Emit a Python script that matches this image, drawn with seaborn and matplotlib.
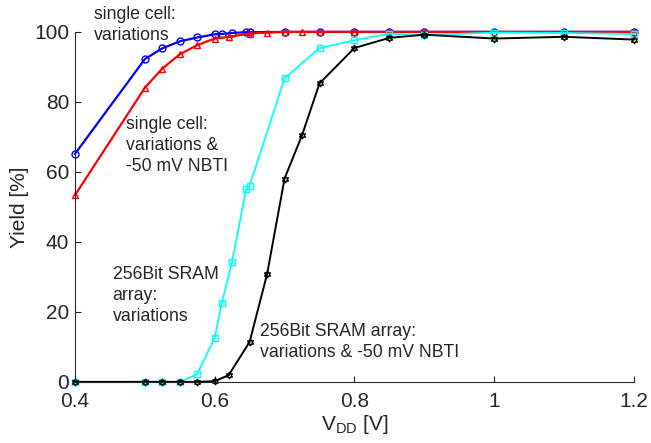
import matplotlib
matplotlib.use("Agg")
import matplotlib.pyplot as plt
import seaborn as sns

# supply voltage sweep points (two grids were simulated)
vdd_a = [0.4, 0.5, 0.525, 0.55, 0.575, 0.6, 0.61, 0.625, 0.645, 0.65,
         0.7, 0.75, 0.8, 0.85, 0.9, 1.0, 1.1, 1.2]
vdd_b = [0.4, 0.5, 0.525, 0.55, 0.575, 0.6, 0.62, 0.65, 0.675, 0.7,
         0.725, 0.75, 0.8, 0.85, 0.9, 1.0, 1.1, 1.2]

# yield in percent
cell_var = [65.1, 92.2, 95.3, 97.3, 98.4, 99.3, 99.4, 99.7, 99.9, 99.9,
            100, 100, 100, 100, 100, 100, 100, 100]
cell_var_nbti = [53.3, 84.0, 89.5, 93.6, 96.2, 98.1, 98.6, 99.5, 99.8, 100,
                 100, 100, 100, 100, 100, 100, 100, 100]
array_var = [0, 0, 0, 0, 2.2, 12.6, 22.4, 34.3, 55.1, 56.1,
             86.7, 95.4, 97.6, 99.5, 99.1, 99.8, 99.7, 99.4]
array_var_nbti = [0, 0, 0, 0, 0, 0.2, 1.9, 11.4, 30.8, 58.1,
                  70.5, 85.3, 95.4, 98.3, 99.2, 98.1, 98.6, 97.8]

x_ticks = [0.4, 0.6, 0.8, 1.0, 1.2]
x_ticklabels = ["0.4", "0.6", "0.8", "1", "1.2"]
y_ticks = [0, 20, 40, 60, 80, 100]

sns.set_style("ticks")
plt.rcParams["font.family"] = ["Liberation Sans", "DejaVu Sans"]
plt.rcParams["mathtext.fontset"] = "custom"
plt.rcParams["mathtext.rm"] = "Liberation Sans"
plt.rcParams["xtick.direction"] = "in"
plt.rcParams["ytick.direction"] = "in"

fig = plt.figure(figsize=(6.51, 4.43), dpi=100)
ax = fig.add_axes([0.115, 0.138, 0.859, 0.79])

mk = dict(markerfacecolor="none", markersize=5, markeredgewidth=1.0, clip_on=False)
sns.lineplot(x=vdd_a, y=cell_var, color="#0000ff", marker="o", lw=1.6,
             markeredgecolor="#0000ff", ax=ax, **mk)
sns.lineplot(x=vdd_b, y=cell_var_nbti, color="#ff0000", marker="^", lw=1.6,
             markeredgecolor="#ff0000", ax=ax, **mk)
sns.lineplot(x=vdd_a, y=array_var, color="#00ffff", marker="s", lw=1.3,
             markeredgecolor="#00ffff", ax=ax, **mk)
sns.lineplot(x=vdd_b, y=array_var_nbti, color="black", marker=(6, 1, 0), lw=1.4,
             markeredgecolor="black", ax=ax, **mk)

ax.set_xlim(0.4, 1.2)
ax.set_ylim(0, 100)
ax.set_xticks(x_ticks)
ax.set_xticklabels(x_ticklabels)
ax.set_yticks(y_ticks)
ax.tick_params(labelsize=15, length=4, width=0.8)
ax.tick_params(axis="x", pad=7)
ax.tick_params(axis="y", pad=4)
sns.despine(ax=ax)
for s in ["left", "bottom"]:
    ax.spines[s].set_linewidth(0.8)

ax.set_xlabel(r"V$_{\mathrm{DD}}$ [V]", fontsize=15, labelpad=2)
ax.set_ylabel("Yield [%]", fontsize=15, labelpad=4)

txt = dict(fontsize=12.7, ha="left", va="top", linespacing=1.3, clip_on=False)
ax.text(0.428, 107.5, "single cell:\nvariations", **txt)
ax.text(0.473, 76, "single cell:\nvariations &\n-50 mV NBTI", **txt)
ax.text(0.454, 33, "256Bit SRAM\narray:\nvariations", **txt)
ax.text(0.665, 16.8, "256Bit SRAM array:\nvariations & -50 mV NBTI", **txt)

fig.savefig("out.png", dpi=100)
